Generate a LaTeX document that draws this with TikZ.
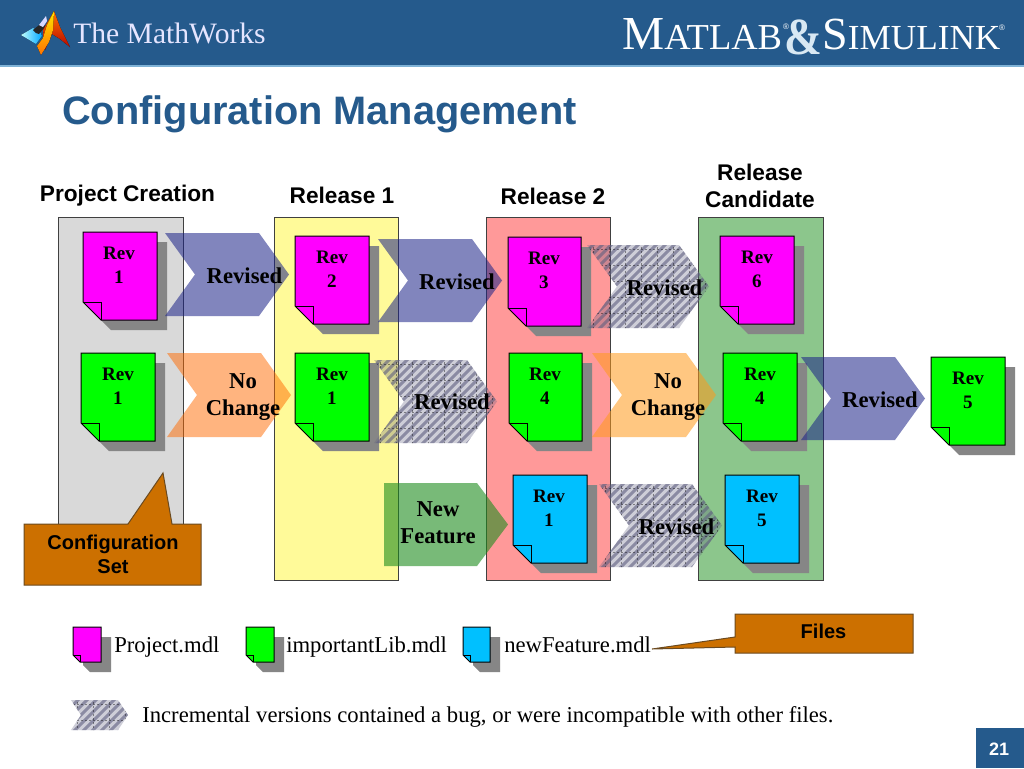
\documentclass[tikz,border=0pt]{standalone}
\usepackage{fontspec}
\setmainfont{Liberation Serif}
\setsansfont{Liberation Sans}
\definecolor{hdr}{HTML}{255A8C}
\definecolor{hdrline}{HTML}{7FB2D6}
\definecolor{cfgfill}{HTML}{CC7000}
\definecolor{cfgline}{HTML}{6B4A20}
\definecolor{magentaf}{HTML}{FF00FF}
\definecolor{greenf}{HTML}{00FF00}
\definecolor{cyanf}{HTML}{00C0FF}
\definecolor{shadowc}{HTML}{868686}
\definecolor{stripec}{HTML}{5F5F80}
\definecolor{chevblue}{HTML}{1A2288}
\definecolor{chevorange}{HTML}{FF6A00}
\definecolor{chevamber}{HTML}{FF9A1A}
\definecolor{chevgreen}{HTML}{1E8C1E}
\tikzset{
  x=0.75pt,y=-0.75pt,
  column/.style={draw=black!75,line width=0.75pt},
  pagefill/.style={draw=black,line width=0.75pt,line join=miter},
  revtext/.style={font=\fontsize{14.3}{17.5}\selectfont\bfseries,align=center,inner sep=0pt,anchor=north},
  arrowtext/.style={font=\fontsize{17}{20}\selectfont\bfseries,align=center,inner sep=0pt},
  headtext/.style={font=\sffamily\bfseries\fontsize{17}{20}\selectfont,align=center,inner sep=0pt,text=black},
  legendtext/.style={font=\fontsize{17}{20}\selectfont,anchor=base west,inner sep=0pt},
  callout/.style={fill=cfgfill,draw=cfgline,line width=0.75pt,line join=miter},
  calltext/.style={font=\sffamily\bfseries\fontsize{15}{18}\selectfont,align=center,inner sep=0pt},
}
% #1 x, #2 y, #3 w, #4 h, #5 colour, #6 fold, #7 shadow offset
\newcommand{\pagedoc}[7]{%
  \begin{scope}[shift={(#1,#2)}]
    \fill[shadowc] (#7,#7) -- (#3+#7,#7) -- (#3+#7,#4+#7) -- (#6+#7,#4+#7) -- (#7,#4-#6+#7) -- cycle;
    \filldraw[fill=#5,pagefill] (0,0) -- (#3,0) -- (#3,#4) -- (#6,#4) -- (0,#4-#6) -- cycle;
    \draw[pagefill] (0,#4-#6) -- (#6,#4-#6) -- (#6,#4);
  \end{scope}}
% #1 x, #2 y, #3 w, #4 h, #5 fill, #6 opacity, #7 notch
\newcommand{\chevron}[7]{%
  \fill[#5,opacity=#6,shift={(#1,#2)}] (0,0) -- (#3-#7,0) -- (#3,#4/2) -- (#3-#7,#4) -- (0,#4) -- (#7,#4/2) -- cycle;}
\newcommand{\hatched}[5]{%
  \begin{scope}[shift={(#1,#2)}]
    \clip (0,0) -- (#3-#5,0) -- (#3,#4/2) -- (#3-#5,#4) -- (0,#4) -- (#5,#4/2) -- cycle;
    \fill[stripec,opacity=0.3] (-5,-5) rectangle (#3+5,#4+5);
    \foreach \k in {-12,...,22} {
      \draw[stripec,opacity=0.6,line width=2.2pt] (9*\k,#4+4) -- (9*\k+#4+8,-4);
    }
    \foreach \k in {0,...,8} {
      \draw[black,opacity=0.4,line width=0.4pt,dash pattern=on 1.5pt off 1.5pt] (16*\k+6,-2) -- (16*\k+6,#4+2);
      \draw[black,opacity=0.4,line width=0.4pt,dash pattern=on 1.5pt off 1.5pt] (-2,16*\k+4) -- (#3+2,16*\k+4);
    }
  \end{scope}}
\begin{document}
\begin{tikzpicture}
\useasboundingbox (0,0) rectangle (1024,768);
\fill[white] (0,0) rectangle (1024,768);
% header
\fill[hdr] (0,0) rectangle (1024,65);
\fill[hdrline] (0,65) rectangle (1024,66.5);
% logo membrane
\fill[left color=cyan!25!white,right color=blue!35!cyan] (21,35) -- (33,28) -- (40,31) -- (42,36) -- (36,44) -- cycle;
\fill[black!85] (33,30) -- (43,22) -- (45,27) -- (39,34) -- (36,33) -- cycle;
\fill[white!85!blue] (39,25) -- (46,16) -- (47,21) -- (43,27) -- cycle;
\fill[top color=orange!90!red,bottom color=red!70!black] (54,11) -- (60,27) -- (70,47) -- (60,39) -- (52,34) -- (45,50) -- (43,30) -- cycle;
\fill[top color=yellow!80!orange,bottom color=orange!90!red] (54,11) -- (53,30) -- (49,42) -- (41,55) -- (37,46) -- (43,38) -- (47,25) -- cycle;
\node[anchor=west,inner sep=0pt,text=white!90!blue,font=\fontsize{22.2}{24}\selectfont] (mathworks) at (73,33) {The MathWorks};
% MATLAB & SIMULINK wordmark
\node[anchor=base west,inner sep=0pt,text=white,font=\fontsize{35.5}{36}\selectfont] (matlab) at (622,49) {M\fontsize{27.4}{28}\selectfont ATLAB};
\node[anchor=base west,inner sep=0pt,text=hdrline!30!white,font=\fontsize{34}{38}\selectfont\bfseries] (amp) at (784,54) {\scalebox{1}[1.15]{\&}};
\node[anchor=base west,inner sep=0pt,text=white,font=\fontsize{34.5}{36}\selectfont] (simulink) at (822,49) {S\fontsize{26.4}{28}\selectfont IMULINK};
\node[anchor=center,inner sep=0pt,text=white,font=\sffamily\fontsize{6}{7}\selectfont] (regone) at (786,27) {®};
\node[anchor=center,inner sep=0pt,text=white,font=\sffamily\fontsize{6}{7}\selectfont] (regtwo) at (1002,28) {®};
% title
\node[anchor=base west,inner sep=0pt,text=hdr,font=\sffamily\bfseries\fontsize{29.8}{32}\selectfont] (title) at (62,124) {Configuration Management};
% columns
\filldraw[fill=black!15,column] (58,217) rectangle (183,530);
\filldraw[fill=yellow!40!white,column] (274,217) rectangle (398,580);
\filldraw[fill=red!40!white,column] (486,217) rectangle (610,580);
\filldraw[fill=green!50!black!45!white,column] (698,217) rectangle (823,580);
% column heads
\node[headtext] (hone) at (127.5,196) {Project Creation};
\node[headtext] (htwo) at (342,195) {Release 1};
\node[headtext] (hthree) at (553,196) {Release 2};
\node[headtext] (hfour) at (760,186) {Release\\Candidate};
% documents
\pagedoc{83}{232}{74}{88}{magentaf}{18}{10}
\pagedoc{295}{236}{74}{88}{magentaf}{18}{10}
\pagedoc{508}{237}{73}{89}{magentaf}{18}{10}
\pagedoc{720}{236}{74}{88}{magentaf}{18}{10}
\pagedoc{81}{353}{74}{88}{greenf}{18}{10}
\pagedoc{295}{353}{74}{88}{greenf}{18}{10}
\pagedoc{509}{353}{73}{88}{greenf}{18}{10}
\pagedoc{723}{353}{74}{88}{greenf}{18}{10}
\pagedoc{931}{357}{74}{88}{greenf}{18}{10}
\pagedoc{513}{475}{74}{88}{cyanf}{18}{10}
\pagedoc{725}{475}{74}{88}{cyanf}{18}{10}
% chevrons
\chevron{165}{233}{124}{83}{chevblue}{0.55}{30}
\chevron{378}{239}{124}{83}{chevblue}{0.55}{30}
\hatched{587}{245}{122}{83}{30}
\chevron{167}{353}{124}{84}{chevorange}{0.5}{30}
\hatched{374}{360}{123}{83}{30}
\chevron{592}{353}{124}{84}{chevamber}{0.55}{30}
\chevron{801}{357}{124}{83}{chevblue}{0.55}{30}
\fill[chevgreen,opacity=0.6] (384,483) -- (477,483) -- (508,524.5) -- (477,566) -- (384,566) -- cycle;
\hatched{599}{484}{123}{83}{30}
% document labels
\node[revtext] (r1) at (119,247) {Rev\\1};
\node[revtext] (r2) at (332,251) {Rev\\2};
\node[revtext] (r3) at (544,252) {Rev\\3};
\node[revtext] (r6) at (757,251) {Rev\\6};
\node[revtext] (g1) at (118,368) {Rev\\1};
\node[revtext] (g2) at (332,368) {Rev\\1};
\node[revtext] (g4) at (545,368) {Rev\\4};
\node[revtext] (g5) at (760,368) {Rev\\4};
\node[revtext] (g6) at (968,372) {Rev\\5};
\node[revtext] (c1) at (549,490) {Rev\\1};
\node[revtext] (c5) at (762,490) {Rev\\5};
% chevron labels
\node[arrowtext] (a1) at (244.5,276) {Revised};
\node[arrowtext] (a2) at (457,282) {Revised};
\node[arrowtext] (a3) at (664.5,288) {Revised};
\node[arrowtext] (a4) at (243,397) {No\\Change};
\node[arrowtext] (a5) at (452,402) {Revised};
\node[arrowtext] (a6) at (668,397) {No\\Change};
\node[arrowtext] (a7) at (880,400) {Revised};
\node[arrowtext] (a8) at (438,523) {New\\Feature};
\node[arrowtext] (a9) at (676.5,527) {Revised};
% config callout
\filldraw[callout] (24,524) -- (128,524) -- (163,473) -- (172,524) -- (201,524) -- (201,585) -- (24,585) -- cycle;
\node[calltext] (cfg) at (113,554) {Configuration\\Set};
% legend
\pagedoc{73}{627}{28}{35}{magentaf}{7}{10}
\node[legendtext] (l1) at (114,652) {Project.mdl};
\pagedoc{246}{627}{28}{35}{greenf}{7}{10}
\node[legendtext] (l2) at (286,652) {importantLib.mdl};
\pagedoc{463}{627}{27}{35}{cyanf}{7}{10}
\node[legendtext] (l3) at (504,652) {newFeature.mdl};
% files callout
\filldraw[callout] (735,614) -- (913,614) -- (913,653) -- (735,653) -- (735,647) -- (652,649) -- (735,637) -- cycle;
\node[calltext] (files) at (823.5,631) {Files};
% hatched legend
\hatched{71}{700}{57}{30}{10}
\node[legendtext] (l4) at (142,722) {Incremental versions contained a bug, or were incompatible with other files.};
% page number
\fill[hdr] (976,728) rectangle (1024,768);
\node[inner sep=0pt,text=white,font=\sffamily\bfseries\fontsize{13.5}{15}\selectfont] (pg) at (999,749) {21};
\end{tikzpicture}
\end{document}
